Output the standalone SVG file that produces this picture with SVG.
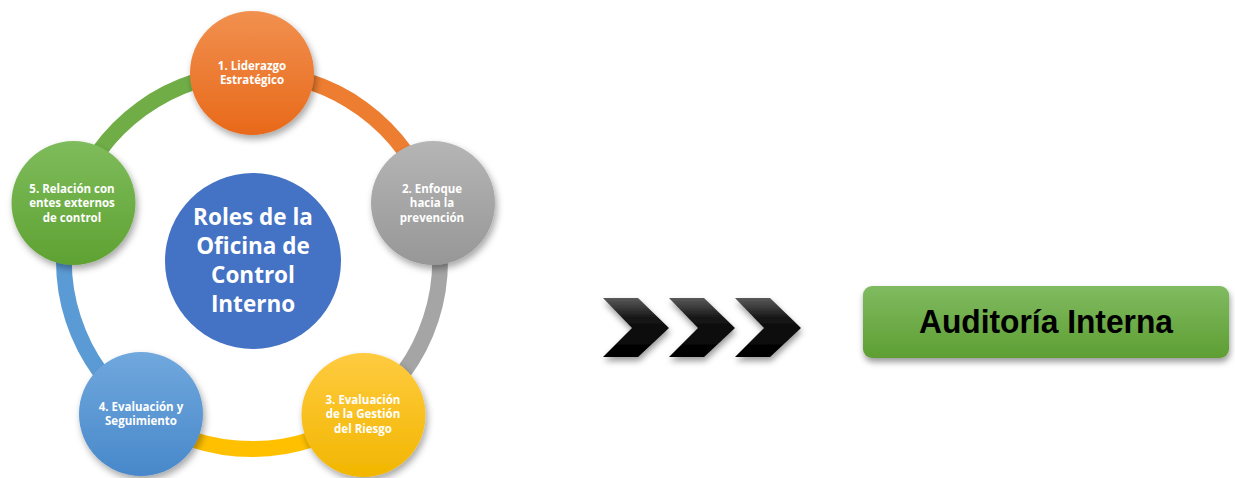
<svg xmlns="http://www.w3.org/2000/svg" width="1235" height="478" viewBox="0 0 1235 478">
<defs>
<style>
.ring{fill:none;stroke-width:16}
.lbl{font-family:"Open Sans","Liberation Sans",sans-serif;font-weight:bold;font-size:11.5px;fill:#fff;text-anchor:middle}
.ctr{font-family:"Open Sans","Liberation Sans",sans-serif;font-weight:bold;font-size:22.5px;fill:#fff;text-anchor:middle}
.aud{font-family:"Liberation Sans",Arial,sans-serif;font-weight:bold;font-size:33px;fill:#000;text-anchor:middle}
</style>
<filter id="sh" x="-30%" y="-30%" width="160%" height="170%">
<feDropShadow dx="2" dy="4" stdDeviation="3.5" flood-color="#000" flood-opacity="0.35"/>
</filter>
<filter id="sh2" x="-20%" y="-30%" width="140%" height="170%">
<feDropShadow dx="1" dy="4" stdDeviation="3" flood-color="#000" flood-opacity="0.4"/>
</filter>
<linearGradient id="gOr" x1="0" y1="0" x2="0" y2="1"><stop offset="0" stop-color="#F1904F"/><stop offset="1" stop-color="#E8691A"/></linearGradient>
<linearGradient id="gGy" x1="0" y1="0" x2="0" y2="1"><stop offset="0" stop-color="#B5B5B5"/><stop offset="1" stop-color="#979797"/></linearGradient>
<linearGradient id="gYe" x1="0" y1="0" x2="0" y2="1"><stop offset="0" stop-color="#FFCB40"/><stop offset="1" stop-color="#F2B600"/></linearGradient>
<linearGradient id="gBl" x1="0" y1="0" x2="0" y2="1"><stop offset="0" stop-color="#70A8DD"/><stop offset="1" stop-color="#4888CA"/></linearGradient>
<linearGradient id="gGr" x1="0" y1="0" x2="0" y2="1"><stop offset="0" stop-color="#7EBC5C"/><stop offset="1" stop-color="#5FA232"/></linearGradient>
<linearGradient id="gBox" x1="0" y1="0" x2="0" y2="1"><stop offset="0" stop-color="#80BB60"/><stop offset="1" stop-color="#5E9E33"/></linearGradient>
<linearGradient id="gCh" x1="0" y1="0" x2="0" y2="1"><stop offset="0" stop-color="#5a5a5a"/><stop offset="0.35" stop-color="#141414"/><stop offset="1" stop-color="#000"/></linearGradient>
<path id="chev" d="M0 0 L35 0 L66 30 L35 59 L0 59 L29 30 Z"/>
</defs>
<rect width="1235" height="478" fill="#fff"/>

<g id="connectors">
<path class="ring" stroke="#ED7D31" d="M252 73 A188 188 0 0 1 430.8 202.9"/>
<path class="ring" stroke="#A5A5A5" d="M430.8 202.9 A188 188 0 0 1 362.5 413.1"/>
<path class="ring" stroke="#FFC000" d="M362.5 413.1 A188 188 0 0 1 141.5 413.1"/>
<path class="ring" stroke="#5B9BD5" d="M141.5 413.1 A188 188 0 0 1 73.2 202.9"/>
<path class="ring" stroke="#70AD47" d="M73.2 202.9 A188 188 0 0 1 252 73"/>
</g>

<g id="center">
<circle cx="253" cy="261" r="88" fill="#4472C4"/>
<text class="ctr" x="253" y="225">Roles de la</text>
<text class="ctr" x="253" y="254">Oficina de</text>
<text class="ctr" x="253" y="283">Control</text>
<text class="ctr" x="253" y="312">Interno</text>
</g>

<g id="node1">
<circle cx="252" cy="73" r="62" fill="url(#gOr)" filter="url(#sh)"/>
<text class="lbl" x="252" y="70">1. Liderazgo</text>
<text class="lbl" x="252" y="84">Estratégico</text>
</g>
<g id="node2">
<circle cx="433" cy="203" r="62" fill="url(#gGy)" filter="url(#sh)"/>
<text class="lbl" x="432" y="193">2. Enfoque</text>
<text class="lbl" x="432" y="207">hacia la</text>
<text class="lbl" x="432" y="222">prevención</text>
</g>
<g id="node3">
<circle cx="363.5" cy="415" r="62" fill="url(#gYe)" filter="url(#sh)"/>
<text class="lbl" x="363" y="404">3. Evaluación</text>
<text class="lbl" x="363" y="418">de la Gestión</text>
<text class="lbl" x="363" y="433">del Riesgo</text>
</g>
<g id="node4">
<circle cx="141" cy="414" r="62" fill="url(#gBl)" filter="url(#sh)"/>
<text class="lbl" x="141" y="411">4. Evaluación y</text>
<text class="lbl" x="141" y="425">Seguimiento</text>
</g>
<g id="node5">
<circle cx="73.5" cy="203" r="62" fill="url(#gGr)" filter="url(#sh)"/>
<text class="lbl" x="72" y="193">5. Relación con</text>
<text class="lbl" x="72" y="207">entes externos</text>
<text class="lbl" x="72" y="222">de control</text>
</g>

<g id="chevrons" fill="url(#gCh)" filter="url(#sh2)">
<use href="#chev" x="603" y="298"/>
<use href="#chev" x="669" y="298"/>
<use href="#chev" x="735" y="298"/>
</g>

<g id="auditoria">
<rect x="863" y="286" width="366" height="72" rx="9" fill="url(#gBox)" filter="url(#sh2)"/>
<text class="aud" x="1046" y="333" textLength="254" lengthAdjust="spacingAndGlyphs">Auditoría Interna</text>
</g>
</svg>
